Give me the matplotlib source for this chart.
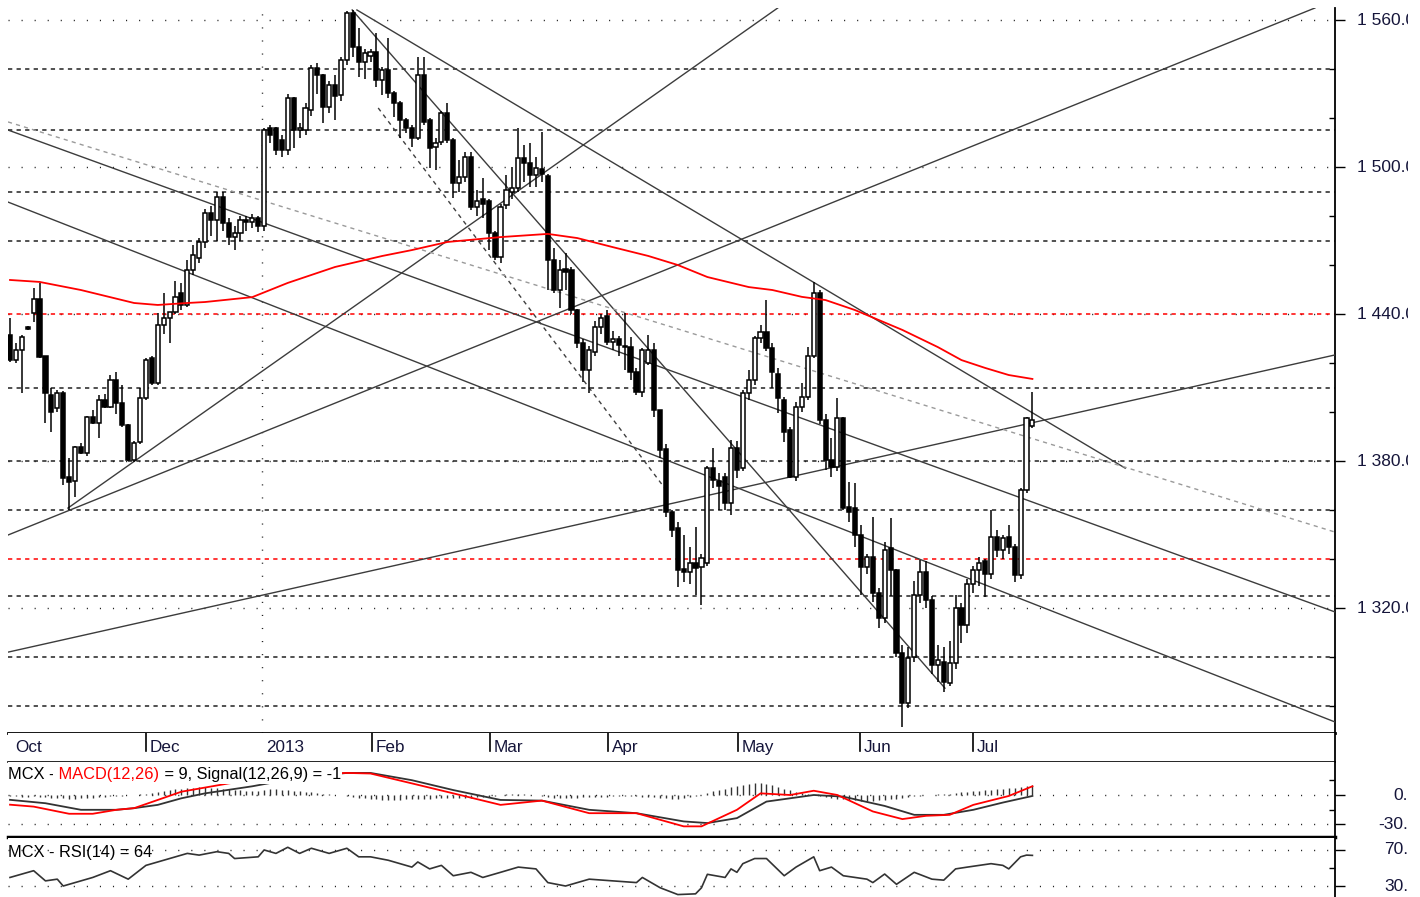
import os
import matplotlib
matplotlib.use("Agg")
import matplotlib.pyplot as plt
import numpy as np
from matplotlib import font_manager
from matplotlib.font_manager import FontProperties
from matplotlib.transforms import blended_transform_factory
from matplotlib.patches import Rectangle

# ---- MCX daily candles, Oct 2012 .. Jul 2013 ----
opens = [
    1431.4, 1421.2, 1425.3, 1434.5, 1440.4, 1446.1, 1422.9, 1406.9, 1401.6, 1407.8,
    1373.5, 1371.8, 1385.7, 1383.3, 1398.0, 1395.5, 1404.9, 1402.0, 1413.1, 1403.7,
    1394.7, 1380.4, 1387.8, 1405.7, 1422.0, 1411.8, 1435.5, 1438.4, 1440.8, 1448.6,
    1443.7, 1458.0, 1463.0, 1469.4, 1481.2, 1478.4, 1487.8, 1477.1, 1471.4, 1473.1,
    1478.4, 1477.6, 1479.2, 1475.9, 1515.9, 1515.9, 1511.0, 1506.9, 1528.2, 1515.1,
    1515.1, 1523.3, 1540.4, 1537.6, 1524.5, 1533.5, 1529.5, 1543.7, 1562.9, 1549.0,
    1542.9, 1545.5, 1546.9, 1535.5, 1539.6, 1530.2, 1526.1, 1519.2, 1515.9, 1511.8,
    1537.6, 1519.2, 1508.0, 1510.2, 1522.0, 1511.0, 1493.5, 1496.0, 1504.0, 1483.7,
    1487.0, 1486.0, 1473.0, 1463.3, 1484.5, 1490.0, 1491.5, 1503.7, 1501.6, 1496.7,
    1499.0, 1496.3, 1462.0, 1450.0, 1458.5, 1458.0, 1441.6, 1428.0, 1417.0, 1424.5,
    1434.7, 1439.0, 1428.6, 1430.0, 1427.0, 1426.5, 1416.3, 1408.0, 1420.0, 1425.3,
    1400.8, 1385.0, 1359.2, 1352.7, 1336.0, 1334.7, 1338.4, 1336.7, 1338.4, 1377.1,
    1372.0, 1373.5, 1362.9, 1385.3, 1377.0, 1407.8, 1413.1, 1430.2, 1432.7, 1426.1,
    1415.5, 1405.0, 1392.7, 1373.5, 1402.0, 1406.0, 1423.0, 1448.6, 1396.7, 1380.4,
    1377.5, 1397.6, 1361.2, 1361.0, 1349.8, 1336.7, 1340.8, 1326.1, 1315.9, 1344.5,
    1335.5, 1301.6, 1281.2, 1300.0, 1325.3, 1334.7, 1323.3, 1296.7, 1298.0, 1289.4,
    1297.6, 1320.0, 1313.0, 1330.0, 1335.5, 1339.0, 1334.0, 1349.0, 1343.7, 1349.0,
    1344.9, 1333.5, 1368.2, 1394.5,
]
highs = [
    1438.4, 1428.0, 1431.4, 1435.0, 1450.6, 1452.7, 1423.0, 1409.8, 1409.0, 1408.5,
    1381.2, 1386.0, 1387.3, 1398.5, 1400.8, 1406.9, 1407.5, 1415.0, 1416.3, 1411.0,
    1395.0, 1388.0, 1409.8, 1422.0, 1423.0, 1440.4, 1448.6, 1441.0, 1453.5, 1452.7,
    1462.0, 1468.0, 1471.0, 1483.0, 1484.0, 1490.0, 1489.8, 1479.0, 1476.0, 1480.0,
    1480.0, 1481.0, 1480.0, 1516.0, 1517.0, 1516.5, 1513.0, 1530.0, 1528.5, 1518.0,
    1526.0, 1541.6, 1542.4, 1538.0, 1535.0, 1537.6, 1545.0, 1563.5, 1564.1, 1556.7,
    1548.0, 1548.0, 1554.7, 1541.0, 1552.7, 1531.0, 1527.0, 1520.0, 1517.0, 1545.0,
    1545.0, 1520.0, 1512.0, 1523.0, 1526.0, 1512.0, 1503.0, 1506.0, 1506.0, 1490.6,
    1495.5, 1487.0, 1474.0, 1485.0, 1496.7, 1500.0, 1515.9, 1509.0, 1509.8, 1504.0,
    1514.3, 1497.0, 1467.0, 1462.0, 1465.0, 1459.0, 1442.0, 1430.0, 1427.0, 1437.0,
    1440.0, 1441.6, 1433.0, 1431.0, 1440.4, 1430.6, 1418.0, 1426.0, 1431.4, 1428.0,
    1401.0, 1387.0, 1360.0, 1355.0, 1349.8, 1345.0, 1353.0, 1342.0, 1378.0, 1385.3,
    1375.0, 1375.0, 1388.6, 1388.0, 1409.0, 1417.0, 1431.0, 1435.5, 1445.7, 1428.0,
    1418.0, 1406.0, 1394.0, 1404.0, 1411.8, 1426.5, 1453.0, 1450.0, 1399.0, 1389.4,
    1405.7, 1398.0, 1371.4, 1371.0, 1354.0, 1342.0, 1357.0, 1328.0, 1347.0, 1356.7,
    1336.0, 1305.0, 1304.0, 1331.0, 1339.6, 1339.0, 1325.0, 1305.0, 1304.0, 1306.5,
    1325.3, 1322.0, 1332.0, 1337.0, 1341.0, 1340.0, 1360.0, 1352.0, 1350.0, 1354.0,
    1346.0, 1369.0, 1398.0, 1408.2,
]
lows = [
    1420.4, 1420.0, 1407.8, 1433.5, 1436.7, 1422.0, 1395.5, 1391.8, 1400.0, 1370.2,
    1360.0, 1365.3, 1383.0, 1382.0, 1395.0, 1389.4, 1401.5, 1401.5, 1399.0, 1394.0,
    1380.0, 1379.6, 1387.0, 1405.0, 1411.0, 1411.0, 1432.0, 1428.2, 1440.0, 1441.6,
    1443.0, 1456.0, 1461.0, 1467.0, 1472.0, 1470.0, 1474.0, 1468.0, 1466.0, 1470.0,
    1474.0, 1475.0, 1473.5, 1474.0, 1510.0, 1504.9, 1504.0, 1505.0, 1507.8, 1512.0,
    1513.0, 1521.0, 1530.0, 1518.0, 1522.0, 1519.2, 1527.0, 1541.5, 1545.0, 1536.7,
    1536.0, 1543.0, 1532.7, 1529.4, 1528.0, 1520.4, 1511.8, 1514.0, 1508.2, 1511.0,
    1517.0, 1499.6, 1498.8, 1509.0, 1510.0, 1487.3, 1490.0, 1494.0, 1482.4, 1480.0,
    1479.0, 1466.1, 1462.0, 1461.0, 1483.0, 1487.0, 1490.0, 1494.0, 1492.0, 1492.0,
    1494.0, 1449.8, 1448.6, 1442.5, 1450.0, 1440.0, 1426.0, 1412.2, 1407.8, 1423.0,
    1432.0, 1427.5, 1425.3, 1423.0, 1417.1, 1413.0, 1406.9, 1406.0, 1419.0, 1398.0,
    1381.2, 1357.0, 1349.0, 1328.6, 1330.6, 1330.0, 1325.3, 1321.2, 1337.0, 1369.0,
    1360.0, 1360.0, 1358.0, 1373.0, 1376.0, 1405.0, 1411.0, 1428.0, 1425.0, 1409.8,
    1399.6, 1387.8, 1373.0, 1372.0, 1400.0, 1405.0, 1422.0, 1395.0, 1376.3, 1373.5,
    1376.0, 1360.0, 1355.1, 1345.0, 1325.3, 1334.0, 1322.4, 1312.0, 1314.0, 1325.0,
    1300.0, 1271.4, 1279.0, 1298.0, 1322.0, 1320.0, 1293.0, 1290.0, 1285.7, 1288.0,
    1295.0, 1305.7, 1310.0, 1326.0, 1329.0, 1324.5, 1332.0, 1341.0, 1340.0, 1342.0,
    1330.6, 1332.0, 1367.0, 1393.5,
]
closes = [
    1421.2, 1425.3, 1430.6, 1433.8, 1446.1, 1422.5, 1407.8, 1400.0, 1407.8, 1373.1,
    1371.4, 1385.7, 1383.3, 1398.0, 1395.5, 1404.9, 1402.0, 1413.1, 1403.7, 1394.7,
    1380.4, 1387.3, 1405.7, 1421.2, 1411.8, 1435.5, 1438.4, 1440.8, 1446.9, 1443.7,
    1458.0, 1464.0, 1469.4, 1481.2, 1478.4, 1487.8, 1477.1, 1471.4, 1473.1, 1478.4,
    1477.6, 1479.2, 1475.9, 1515.1, 1513.0, 1506.9, 1506.9, 1528.2, 1515.1, 1516.0,
    1524.1, 1540.4, 1537.6, 1524.5, 1533.5, 1529.0, 1543.7, 1562.9, 1549.0, 1542.9,
    1546.5, 1547.0, 1535.5, 1539.6, 1530.2, 1526.1, 1519.2, 1515.9, 1511.8, 1537.6,
    1518.4, 1507.8, 1510.0, 1522.0, 1511.0, 1493.5, 1496.0, 1504.0, 1483.7, 1486.0,
    1485.0, 1473.0, 1463.3, 1483.7, 1490.6, 1491.5, 1503.7, 1501.6, 1496.7, 1499.5,
    1497.0, 1462.0, 1449.8, 1458.0, 1457.0, 1441.6, 1428.0, 1417.0, 1425.3, 1434.7,
    1438.4, 1428.6, 1430.0, 1427.3, 1426.5, 1416.3, 1408.0, 1425.3, 1425.3, 1400.8,
    1384.5, 1359.2, 1352.0, 1335.5, 1334.7, 1338.4, 1336.3, 1340.4, 1377.1, 1372.2,
    1370.0, 1362.9, 1385.3, 1376.3, 1407.8, 1413.1, 1430.2, 1432.7, 1426.1, 1416.3,
    1405.7, 1391.8, 1373.5, 1402.0, 1406.0, 1422.9, 1448.6, 1396.7, 1380.4, 1377.5,
    1397.6, 1360.8, 1359.2, 1349.8, 1336.7, 1340.8, 1326.1, 1315.9, 1343.7, 1335.5,
    1301.6, 1281.2, 1299.6, 1325.3, 1334.7, 1323.3, 1296.7, 1298.8, 1289.8, 1297.6,
    1320.0, 1313.0, 1330.0, 1335.5, 1338.4, 1334.0, 1349.0, 1343.7, 1348.6, 1344.9,
    1333.5, 1368.2, 1397.6, 1396.7,
]

# red moving average (bar index, value)
ma_idx = [0, 5, 12, 21, 25, 30, 33, 41, 47, 55, 63, 68, 74, 83, 91, 96, 102, 108,
          113, 118, 125, 129, 134, 138, 143, 151, 157, 161, 165, 169, 173]
ma_val = [1453.9, 1453.1, 1449.8, 1444.5, 1443.7, 1444.5, 1444.9, 1446.9, 1452.7,
          1459.2, 1463.7, 1466.1, 1469.4, 1471.4, 1472.7, 1471.0, 1467.3, 1463.7,
          1460.0, 1455.1, 1451.0, 1449.8, 1447.0, 1445.7, 1441.6, 1433.5, 1426.5,
          1421.2, 1418.0, 1415.1, 1413.5]

# drawn trend lines: (bar index, price) -> (bar index, price)
tl_x0 = [-0.34, -0.34, -0.34, 9.8, -0.34, 58.7, 57.9]
tl_y0 = [1515.1, 1485.7, 1349.8, 1360.8, 1302.0, 1564.1, 1564.1]
tl_x1 = [224.2, 224.2, 220.8, 129.9, 224.2, 188.7, 158.2]
tl_y1 = [1318.4, 1273.5, 1564.9, 1564.9, 1423.3, 1377.1, 1287.3]
# dashed channel lines
dl_x0 = [62.3, -0.34]
dl_y0 = [1524.1, 1518.4]
dl_x1 = [111.3, 224.2]
dl_y1 = [1367.3, 1351.0]

price_ticks = [1560, 1500, 1440, 1380, 1320]
black_levels = [1540, 1515, 1490, 1470, 1410, 1380, 1360, 1325, 1300, 1280]
red_levels = [1440, 1340]
year_break = 42.7

month_names = ["Oct", "Dec", "2013", "Feb", "Mar", "Apr", "May", "Jun", "Jul"]
month_pos = [0.25, 23.0, 42.7, 61.25, 81.2, 101.2, 123.2, 143.8, 162.9]
month_tick = [False, True, False, True, True, True, True, True, True]

# MACD (red) and signal (black)
macd_idx = [0, 4, 10, 14, 18, 21, 25, 29, 37, 47, 57, 61, 68, 75, 83, 90, 98, 106,
            114, 117, 123, 127, 132, 136, 140, 146, 151, 155, 159, 163, 169, 173]
macd_val = [-10, -12, -19.4, -19.4, -15.3, -13.6, -5.1, 3.4, 12, 20, 22.8, 22.2, 12,
            1.7, -10.2, -5.8, -18.8, -18.8, -32.4, -32.4, -15.3, 1.7, 0, 4.4, 0, -17,
            -24.9, -21.5, -20.5, -10.2, -1, 9]
sig_idx = [0, 6, 12, 18, 21, 25, 29, 33, 41, 49, 57, 61, 68, 75, 83, 90, 98, 106,
           114, 118, 123, 128, 136, 141, 148, 153, 158, 163, 168, 173]
sig_val = [-5, -8.5, -15.3, -15.3, -13.6, -10.2, -3.4, 1.7, 9, 18, 22.8, 22.8, 15.3,
           5.1, -5.1, -5.8, -15.3, -18.8, -27.3, -29, -23.9, -6.8, 0, -1.7, -11.3,
           -20.5, -20.5, -15.3, -7.8, -1]
hist = [
    -1, -1, -2, -2, -1, -2, -2, -3, -3, -3,
    -4, -4, -3, -3, -3, -2, -2, -1, -1, -1,
    0, 0, 1, 1, 2, 3, 4, 5, 6, 6,
    7, 7, 8, 8, 7, 7, 6, 6, 5, 5,
    4, 4, 4, 5, 6, 6, 5, 5, 4, 4,
    3, 3, 2, 1, 1, 0, 0, -1, -2, -3,
    -3, -4, -4, -5, -5, -5, -5, -4, -4, -4,
    -4, -4, -3, -3, -3, -3, -3, -3, -3, -2,
    -2, -2, -1, 0, 1, 1, 1, 1, 0, 0,
    -1, -2, -3, -3, -3, -3, -3, -2, -2, -2,
    -2, -2, -1, -1, -1, -1, -1, -2, -2, -2,
    -3, -3, -4, -4, -3, -2, -1, 0, 2, 4,
    5, 6, 8, 9, 10, 11, 12, 12, 11, 10,
    8, 6, 5, 3, 2, 1, 0, -1, -2, -3,
    -4, -4, -5, -5, -6, -6, -6, -5, -5, -4,
    -4, -3, -2, -1, -1, 0, 0, 1, 1, 1,
    2, 3, 3, 4, 4, 5, 5, 6, 6, 7,
    7, 8, 9, 10,
]

# RSI(14)
rsi_idx = [0, 4, 6, 8, 9, 11, 14, 17, 20, 23, 25, 27, 30, 32, 35, 37, 38, 42, 43, 45,
           47, 49, 51, 54, 57, 59, 61, 64, 66, 68, 69, 71, 73, 75, 78, 80, 83, 86, 89,
           91, 94, 98, 102, 106, 107, 110, 113, 116, 117, 118, 121, 122, 123, 124,
           126, 128, 131, 133, 136, 137, 139, 141, 145, 146, 148, 150, 153, 156, 158,
           160, 162, 166, 168, 169, 171, 172, 173]
rsi_val = [39.5, 47, 35.7, 37.6, 30, 33.8, 39.5, 47, 37.6, 52.9, 56.7, 60.5, 66.2,
           64.3, 68.1, 66.2, 60.5, 62.4, 70, 66.2, 73, 66.2, 71.9, 66.2, 71.9, 62.4,
           62.4, 58.6, 54.8, 51, 56.7, 49, 52.9, 41.4, 45.2, 39.5, 45.2, 51, 49, 33.8,
           30, 37.6, 35.7, 33.8, 39.5, 28.1, 20.5, 21.3, 28, 43, 39.5, 49, 45.2, 54.8,
           60.5, 60.5, 41.4, 51, 62.4, 47, 51, 41.4, 37.6, 33.8, 43.3, 31.9, 45.2,
           37.6, 36.5, 49, 51, 54.8, 52.9, 49, 62.4, 64.3, 64]

W, H = 1420, 897
TXT = '#15153a'
LINE = '#3c3c3c'
XLIM = (-0.34, 224.2)
DASH = (0, (2.8, 2.8))
DOTS = (0, (0.8, 8.6))

plt.rcParams['font.family'] = ['Liberation Sans', 'DejaVu Sans']

# the chart's labels use a narrow face; take one if it is installed
narrow = None
for f in font_manager.fontManager.ttflist:
    if os.path.basename(f.fname) == 'LiberationSansNarrow-Regular.ttf':
        narrow = f.fname
if narrow:
    label_fp = FontProperties(fname=narrow, size=13.5)
    date_fp = FontProperties(fname=narrow, size=14.5)
else:
    label_fp = FontProperties(family=['Liberation Sans', 'DejaVu Sans'], size=11.8)
    date_fp = FontProperties(family=['Liberation Sans', 'DejaVu Sans'], size=12.3)
num_fp = FontProperties(family=['Liberation Sans', 'DejaVu Sans'], size=12.5)


def fx(px):
    return px / W


def fy(py):
    return 1 - py / H


def panel(top, bottom):
    ax = fig.add_axes([fx(8), fy(bottom), fx(1335) - fx(8), (bottom - top) / H])
    ax.set_xlim(*XLIM)
    ax.set_xticks([])
    ax.spines['left'].set_visible(False)
    ax.spines['top'].set_visible(False)
    ax.spines['right'].set_linewidth(1.3)
    ax.yaxis.tick_right()
    ax.tick_params(axis='y', length=7, width=1, labelright=False, direction='out')
    ax.tick_params(axis='y', which='minor', length=4, width=1, direction='in')
    return ax


fig = plt.figure(figsize=(W / 100, H / 100), dpi=100)

# ---- price panel ----
ax = panel(8, 733)
ax.set_ylim(1269.0, 1564.9)
ax.spines['bottom'].set_linewidth(2)
ax.set_yticks(price_ticks)
ax.set_yticks([v for v in range(1280, 1560, 20) if v not in price_ticks], minor=True)

for v in price_ticks:
    ax.axhline(v, color='#222222', lw=1, ls=DOTS, zorder=1)
ax.axvline(year_break, color='#222222', lw=1, ls=DOTS, zorder=1)
for v in black_levels:
    ax.axhline(v, color='#202020', lw=1.1, ls=DASH, zorder=2)
for v in red_levels:
    ax.axhline(v, color='#ff0000', lw=1.1, ls=DASH, zorder=2)

for x0, y0, x1, y1 in zip(tl_x0, tl_y0, tl_x1, tl_y1):
    ax.plot([x0, x1], [y0, y1], color=LINE, lw=1, zorder=3)
ax.plot([dl_x0[0], dl_x1[0]], [dl_y0[0], dl_y1[0]], color='#404040', lw=1,
        ls=(0, (3, 3)), zorder=3)
ax.plot([dl_x0[1], dl_x1[1]], [dl_y0[1], dl_y1[1]], color='#9a9a9a', lw=1,
        ls=(0, (3, 3)), zorder=3)

o = np.array(opens)
h = np.array(highs)
l = np.array(lows)
c = np.array(closes)
idx = np.arange(len(o))
up = c >= o
ax.vlines(idx, l, h, color='black', lw=1.1, zorder=4)
ax.bar(idx, np.maximum(np.abs(c - o), 0.4), bottom=np.minimum(o, c), width=0.7,
       color=np.where(up, 'white', 'black'), edgecolor='black', lw=1.1, zorder=5)

ax.plot(ma_idx, ma_val, color='#ff0000', lw=1.3, zorder=6)

tr = blended_transform_factory(fig.transFigure, ax.transData)
for v in price_ticks:
    ax.text(fx(1357), v, f"{v:,.1f}".replace(",", " "), transform=tr, va='center',
            ha='left', fontproperties=num_fp, color=TXT)

# ---- date strip ----
dax = panel(733, 762)
dax.set_ylim(0, 1)
dax.set_yticks([])
dax.spines['bottom'].set_linewidth(1.2)
for name, pos, tick in zip(month_names, month_pos, month_tick):
    if tick:
        dax.plot([pos, pos], [1, 0.38], color='black', lw=1.2)
    dax.text(pos + 0.6, 0.5, name, va='center', ha='left', fontproperties=date_fp,
             color=TXT)

# ---- MACD panel ----
max_ = panel(762, 837)
max_.set_ylim(-43.4, 34.1)
max_.spines['bottom'].set_linewidth(2.5)
max_.set_yticks([0, -30])
max_.set_yticks([15, -15], minor=True)
for v in (0, -30):
    max_.axhline(v, color='#222222', lw=1, ls=DOTS, zorder=1)
max_.vlines(idx, 0, hist, color='#333333', lw=1, zorder=2)
max_.plot(sig_idx, sig_val, color='#333333', lw=1.3, zorder=2)
max_.plot(macd_idx, macd_val, color='#ff0000', lw=1.3, zorder=2)
bb = dict(facecolor='white', edgecolor='none', pad=1)
t1 = max_.text(0.0, 0.83, "MCX -", transform=max_.transAxes, va='center', ha='left',
               fontproperties=label_fp, color='black', bbox=bb, zorder=5)
t2 = max_.annotate(" MACD(12,26)", xy=(1, 0), xycoords=t1, va='bottom', ha='left',
                   fontproperties=label_fp, color='#ff0000', bbox=bb, zorder=5)
max_.annotate(" = 9, Signal(12,26,9) = -1", xy=(1, 0), xycoords=t2, va='bottom',
              ha='left', fontproperties=label_fp, color='black', bbox=bb, zorder=5)
trm = blended_transform_factory(fig.transFigure, max_.transData)
for v, s in ((0, "0.0"), (-30, "-30.0")):
    max_.text(fx(1418), v, s, transform=trm, va='center', ha='right',
              fontproperties=num_fp, color=TXT)

# ---- RSI panel ----
rax = panel(838, 897)
rax.set_ylim(17.8, 83.3)
rax.spines['bottom'].set_visible(False)
rax.set_yticks([70, 30])
rax.set_yticks([50], minor=True)
for v in (70, 30):
    rax.axhline(v, color='#222222', lw=1, ls=DOTS, zorder=1)
rax.plot(rsi_idx, rsi_val, color='#333333', lw=1.2, zorder=2)
rax.text(0.0, 0.76, "MCX - RSI(14) = 64", transform=rax.transAxes, va='center',
         ha='left', fontproperties=label_fp, color='black', zorder=5)
trr = blended_transform_factory(fig.transFigure, rax.transData)
for v in (70, 30):
    rax.text(fx(1418), v, f"{v}.0", transform=trr, va='center', ha='right',
             fontproperties=num_fp, color=TXT)

# the original screenshot is cut at the right edge
fig.patches.append(Rectangle((fx(1408), 0), 1 - fx(1408), 1, transform=fig.transFigure,
                             facecolor='white', edgecolor='none', zorder=10))

fig.savefig("out.png", dpi=100, facecolor='white')
